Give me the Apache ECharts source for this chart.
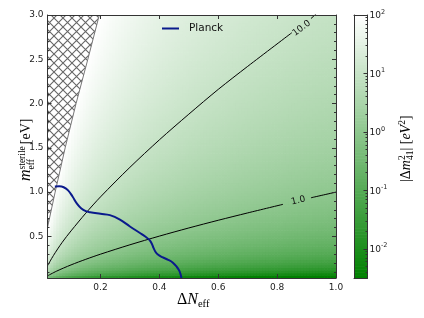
<!DOCTYPE html>
<html><head><meta charset="utf-8">
<script src="https://cdn.jsdelivr.net/npm/echarts@6/dist/echarts.min.js"></script>
<style>html,body{margin:0;padding:0;background:#fff}#c{width:424px;height:318px}</style>
</head><body><div id="c"></div>
<script>
// ---------- data ----------
const xMin = 0.02, xMax = 1.0, yMin = 0.03, yMax = 3.0;
const xTickValues = [0.2, 0.4, 0.6, 0.8, 1.0];
const yTickValues = [0.5, 1.0, 1.5, 2.0, 2.5, 3.0];
const yMinorValues = [0.1,0.2,0.3,0.4,0.6,0.7,0.8,0.9,1.1,1.2,1.3,1.4,1.6,1.7,1.8,1.9,2.1,2.2,2.3,2.4,2.6,2.7,2.8,2.9];

// colour bar: log10 |Δm²41|
const cbMin = -2.5, cbMax = 2.0;
const cbTickExponents = [-2, -1, 0, 1, 2];
const cbMinorMultipliers = [2, 3, 4, 5, 6, 7, 8, 9];
const cbColors = ['#008000', '#ffffff'];

// relation behind the colour field: m_eff = ΔN_eff^(3/4) · m_s,  Δm²41 = m_s²
const massExponent = 0.75;
const fieldColumns = 98, fieldRows = 99;

// Planck contour
const planckX = [0.045,0.06,0.075,0.09,0.105,0.12,0.135,0.15,0.165,0.2,0.232,0.266,0.3,0.334,0.352,0.366,0.374,0.38,0.386,0.395,0.41,0.43,0.445,0.458,0.468,0.475];
const planckY = [1.063,1.065,1.055,1.02,0.95,0.87,0.815,0.785,0.772,0.755,0.74,0.69,0.612,0.538,0.498,0.46,0.42,0.37,0.33,0.295,0.265,0.235,0.205,0.16,0.11,0.03];

// |Δm²41| = 1.0 contour (two pieces around its label)
const c1aX = [0.02,0.05,0.1,0.15,0.2,0.3,0.4,0.5,0.6,0.7,0.82];
const c1aY = [0.054,0.106,0.178,0.241,0.299,0.405,0.503,0.595,0.682,0.765,0.862];
const c1bX = [0.915,1.0];
const c1bY = [0.936,1.0];
// |Δm²41| = 10.0 contour
const c10aX = [0.02,0.04,0.07,0.1,0.15,0.2,0.3,0.4,0.5,0.6,0.7,0.85];
const c10aY = [0.168,0.283,0.433,0.562,0.762,0.946,1.28,1.59,1.88,2.16,2.42,2.80];
const c10bX = [0.915,0.935];
const c10bY = [2.96,3.02];
// contour labels
const labelText = ['1.0', '10.0'];
const labelX = [0.872, 0.883];
const labelY = [0.904, 2.85];
const labelAngle = [13, 37];

// excluded (hatched) region boundary
const hatchX = [0.02,0.046,0.08,0.117,0.157,0.196];
const hatchY = [0.6,1.0,1.5,2.0,2.5,3.0];

// ---------- build ----------
const zip = (a, b) => a.map((v, i) => [v, b[i]]);
const fieldData = [];
const dX = (xMax - xMin) / fieldColumns, dY = (yMax - yMin) / fieldRows;
for (let i = 0; i < fieldColumns; i++) {
  for (let j = 0; j < fieldRows; j++) {
    const x = xMin + (i + 0.5) * dX, y = yMin + (j + 0.5) * dY;
    let v = 2 * Math.log10(y / Math.pow(x, massExponent));
    v = Math.max(cbMin, Math.min(cbMax, v));
    fieldData.push([x, y, v]);
  }
}
const cbStep = 0.05, cbData = [];
for (let v = cbMin + cbStep / 2; v < cbMax; v += cbStep) cbData.push([0.5, v, v]);
const cbMinorValues = [];
for (let e = -3; e < 2; e++) cbMinorMultipliers.forEach(m => {
  const l = e + Math.log10(m); if (l > cbMin && l < cbMax) cbMinorValues.push(l);
});

const mctx = document.createElement('canvas').getContext('2d');
function tw(t, font) { mctx.font = font; return mctx.measureText(t).width; }
function mathLabel(pieces, base, family) {
  let x = 0, pending = 0; const els = [];
  pieces.forEach(p => {
    const size = p.size || base;
    const font = (p.it ? 'italic ' : '') + size + 'px "' + family + '"';
    x += (p.dx || 0);
    const y = -(p.shift || 0) * base - 0.34 * size;
    els.push({ type: 'text', x: x, y: y, style: { text: p.t, font: font, fill: '#000', align: 'left', verticalAlign: 'middle' } });
    const w = tw(p.t, font);
    if (p.noAdvance) { pending = w; } else { x += Math.max(w, pending); pending = 0; }
  });
  return els;
}

const hatchTile = document.createElement('canvas');
hatchTile.width = 9; hatchTile.height = 9;
(function () {
  const h = hatchTile.getContext('2d');
  h.fillStyle = '#fff'; h.fillRect(0, 0, 9, 9);
  h.strokeStyle = '#666'; h.lineWidth = 1.1;
  h.beginPath(); h.moveTo(-1, -1); h.lineTo(10, 10); h.moveTo(-1, 10); h.lineTo(10, -1); h.stroke();
})();

const frame = '#333';
function ax(extra) {
  return Object.assign({ type: 'value', z: 10, splitLine: { show: false }, axisLabel: { show: false },
    axisTick: { show: false }, axisLine: { show: false, onZero: false } }, extra);
}
const tickFont = { fontSize: 9, color: '#222', fontFamily: 'DejaVu Sans' };
const lineC = { show: true, onZero: false, lineStyle: { color: frame, width: 1 } };

const chart = echarts.init(document.getElementById('c'), null, { renderer: 'canvas' });
chart.setOption({
  animation: false,
  backgroundColor: '#fff',
  grid: [
    { left: 47.5, top: 15, width: 288.5, height: 263 },
    { left: 354, top: 15, width: 13.5, height: 263 }
  ],
  xAxis: [
    ax({ gridIndex: 0, position: 'bottom', min: xMin, max: xMax, axisLine: lineC,
      axisTick: { show: true, inside: true, length: 4, customValues: xTickValues, lineStyle: { color: frame } },
      axisLabel: Object.assign({ show: true, customValues: xTickValues, margin: 5, formatter: v => v.toFixed(1) }, tickFont) }),
    ax({ gridIndex: 0, position: 'top', min: xMin, max: xMax, axisLine: lineC,
      axisTick: { show: true, inside: true, length: 4, customValues: xTickValues, lineStyle: { color: frame } } }),
    ax({ gridIndex: 1, position: 'bottom', min: 0, max: 1, axisLine: lineC }),
    ax({ gridIndex: 1, position: 'top', min: 0, max: 1, axisLine: lineC })
  ],
  yAxis: [
    ax({ gridIndex: 0, position: 'left', min: yMin, max: yMax, axisLine: lineC,
      axisTick: { show: true, inside: true, length: 4, customValues: yTickValues, lineStyle: { color: frame } },
      axisLabel: Object.assign({ show: true, customValues: yTickValues, margin: 4, formatter: v => v.toFixed(1) }, tickFont) }),
    ax({ gridIndex: 0, position: 'right', min: yMin, max: yMax, axisLine: lineC,
      axisTick: { show: true, inside: true, length: 4, customValues: yTickValues, lineStyle: { color: frame } } }),
    ax({ gridIndex: 0, position: 'left', min: yMin, max: yMax,
      axisTick: { show: true, inside: true, length: 2, customValues: yMinorValues, lineStyle: { color: frame } } }),
    ax({ gridIndex: 0, position: 'right', min: yMin, max: yMax,
      axisTick: { show: true, inside: true, length: 2, customValues: yMinorValues, lineStyle: { color: frame } } }),
    ax({ gridIndex: 1, position: 'left', min: cbMin, max: cbMax, axisLine: lineC }),
    ax({ gridIndex: 1, position: 'right', min: cbMin, max: cbMax, axisLine: lineC,
      axisTick: { show: true, inside: true, length: 4, customValues: cbTickExponents, lineStyle: { color: frame } } }),
    ax({ gridIndex: 1, position: 'right', min: cbMin, max: cbMax,
      axisTick: { show: true, inside: true, length: 2, customValues: cbMinorValues, lineStyle: { color: frame } } })
  ],
  visualMap: {
    type: 'continuous', show: false, min: cbMin, max: cbMax, dimension: 2, seriesIndex: [0, 7],
    inRange: { color: cbColors }
  },
  legend: {
    data: [{ name: 'Planck', icon: 'rect' }], left: 162, top: 23, padding: 0, itemWidth: 17, itemHeight: 2,
    textStyle: { fontSize: 10.5, fontFamily: 'DejaVu Sans', color: '#111', padding: [0, 0, 0, 5] }
  },
  graphic: [
    { type: 'group', x: 177, y: 305, children: mathLabel([{ t: 'Δ' }, { t: 'N', it: true }, { t: 'eff', size: 10.5, shift: -0.16 }], 16, 'Liberation Serif') },
    { type: 'group', x: 31.5, y: 181, rotation: Math.PI / 2, children: mathLabel([{ t: 'm', it: true }, { t: 'sterile', size: 9.5, shift: 0.36, noAdvance: true }, { t: 'eff', size: 9.5, shift: -0.2 }, { t: '[eV]', size: 14, dx: 2 }], 16, 'Liberation Serif') },
    { type: 'group', x: 411, y: 182, rotation: Math.PI / 2, children: mathLabel([{ t: '|Δ' }, { t: 'm', it: true }, { t: '2', size: 9.5, shift: 0.4, noAdvance: true }, { t: '41', size: 9.5, shift: -0.22 }, { t: '| [' }, { t: 'eV', it: true }, { t: '2', size: 9.5, shift: 0.4 }, { t: ']' }], 14, 'Liberation Serif') }
  ],
  series: [
    { // 0 colour field
      type: 'custom', xAxisIndex: 0, yAxisIndex: 0, z: 1, clip: true, progressive: 0, silent: true,
      data: fieldData,
      renderItem: (params, api) => {
        const x = api.value(0), y = api.value(1);
        const p0 = api.coord([x - dX / 2, y + dY / 2]);
        const p1 = api.coord([x + dX / 2, y - dY / 2]);
        return { type: 'rect', shape: { x: p0[0], y: p0[1], width: p1[0] - p0[0] + 0.7, height: p1[1] - p0[1] + 0.7 },
          style: { fill: api.visual('color') } };
      }
    },
    { // 1 hatched excluded region
      type: 'custom', xAxisIndex: 0, yAxisIndex: 0, z: 2, clip: true, silent: true,
      data: [[xMin, yMax]],
      renderItem: (params, api) => {
        const pts = zip(hatchX, hatchY).map(p => api.coord(p));
        pts.push(api.coord([xMin, yMax]));
        return { type: 'polygon', shape: { points: pts },
          style: { fill: { image: hatchTile, repeat: 'repeat' }, stroke: '#777', lineWidth: 1 } };
      }
    },
    { type: 'line', z: 3, data: zip(c1aX, c1aY), smooth: 0.3, symbol: 'none', lineStyle: { color: '#000', width: 1 }, silent: true },
    { type: 'line', z: 3, data: zip(c1bX, c1bY), smooth: 0.3, symbol: 'none', lineStyle: { color: '#000', width: 1 }, silent: true },
    { type: 'line', z: 3, data: zip(c10aX, c10aY), smooth: 0.3, symbol: 'none', lineStyle: { color: '#000', width: 1 }, silent: true },
    { type: 'line', z: 3, data: zip(c10bX, c10bY), smooth: 0.3, symbol: 'none', lineStyle: { color: '#000', width: 1 }, silent: true },
    { // 6 contour labels
      type: 'custom', z: 4, silent: true,
      data: labelX.map((x, i) => [x, labelY[i], labelAngle[i]]),
      renderItem: (params, api) => {
        const p = api.coord([api.value(0), api.value(1)]);
        return { type: 'text', x: p[0], y: p[1], rotation: api.value(2) * Math.PI / 180,
          style: { text: labelText[params.dataIndex], font: '9px "DejaVu Sans"', fill: '#111', align: 'center', verticalAlign: 'middle' } };
      }
    },
    { // 7 colour bar
      type: 'custom', xAxisIndex: 2, yAxisIndex: 4, z: 1, silent: true, progressive: 0,
      data: cbData,
      renderItem: (params, api) => {
        const v = api.value(1);
        const p0 = api.coord([0, v + cbStep / 2]);
        const p1 = api.coord([1, v - cbStep / 2]);
        return { type: 'rect', shape: { x: p0[0], y: p0[1], width: p1[0] - p0[0], height: p1[1] - p0[1] + 0.6 },
          style: { fill: api.visual('color') } };
      }
    },
    { // 8 colour bar tick labels 10^n
      type: 'custom', xAxisIndex: 2, yAxisIndex: 4, z: 5, silent: true,
      data: cbTickExponents.map(e => [1, e]),
      renderItem: (params, api) => {
        const p = api.coord([1, api.value(1)]);
        const e = api.value(1);
        const f1 = '9px "DejaVu Sans"', f2 = '6.5px "DejaVu Sans"';
        const w = tw('10', f1);
        return { type: 'group', children: [
          { type: 'text', x: p[0] + 2, y: p[1] + 1, style: { text: '10', font: f1, fill: '#222', align: 'left', verticalAlign: 'middle' } },
          { type: 'text', x: p[0] + 2 + w, y: p[1] - 3, style: { text: String(e), font: f2, fill: '#222', align: 'left', verticalAlign: 'middle' } }
        ] };
      }
    },
    { // 9 Planck
      name: 'Planck', type: 'line', z: 5, data: zip(planckX, planckY), smooth: 0.4, symbol: 'none',
      lineStyle: { color: '#0a1a8c', width: 2 }, itemStyle: { color: '#0a1a8c' }
    }
  ]
});
</script></body></html>
